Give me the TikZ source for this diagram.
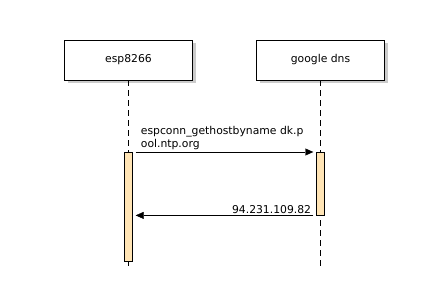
\documentclass[tikz,border=0pt]{standalone}
\usepackage{fontspec}
\setmainfont{DejaVu Sans}
\usetikzlibrary{shadows,arrows.meta}

\definecolor{barfill}{RGB}{255,228,181}

\begin{document}
\begin{tikzpicture}[>={Triangle[length=8pt,width=7pt]}, x=1pt, y=-1pt,
    font=\fontsize{10.8}{13}\selectfont]
    \newcommand\kEsp{128.5}
    \newcommand\kDns{320.5}
    \newcommand\kEnd{268}
    \tikzset{
      participant/.style={draw, fill=white, minimum width=128pt,
        minimum height=40pt, inner sep=0pt,
        drop shadow={shadow xshift=3pt, shadow yshift=-3pt, fill=black!40}},
      activation/.style={draw, fill=barfill, minimum width=8pt,
        inner sep=0pt, anchor=north},
      lifeline/.style={dash pattern=on 6pt off 4pt}
    }
    \useasboundingbox[fill=white] (0,0) rectangle (448,289);
    % participants
    \node[participant] (esp) at (\kEsp, 60) {esp8266};
    \node[participant] (dns) at (\kDns, 60) {google dns};
    \coordinate (espend) at (\kEsp, \kEnd);
    \coordinate (dnsend) at (\kDns, \kEnd);
    \draw[lifeline] (esp.south) -- (espend);
    \draw[lifeline] (dns.south) -- (dnsend);
    % activation bars
    \node[activation, minimum height=109pt] (espbar) at (\kEsp, 152) {};
    \node[activation, minimum height=63pt] (dnsbar) at (\kDns, 152) {};
    % messages
    \draw[->]
      ([xshift=3pt]espbar.north east) --
      node[pos=0, above right, align=left, inner sep=2pt, xshift=3pt]
        {espconn\_gethostbyname dk.p\\ool.ntp.org}
      ([xshift=-3pt]dnsbar.north west);
    \draw[->]
      ([xshift=-3pt]dnsbar.south west) --
      node[pos=0, above left, inner sep=2pt]{94.231.109.82}
      ([xshift=3pt]espbar.east |- dnsbar.south);
\end{tikzpicture}
\end{document}
